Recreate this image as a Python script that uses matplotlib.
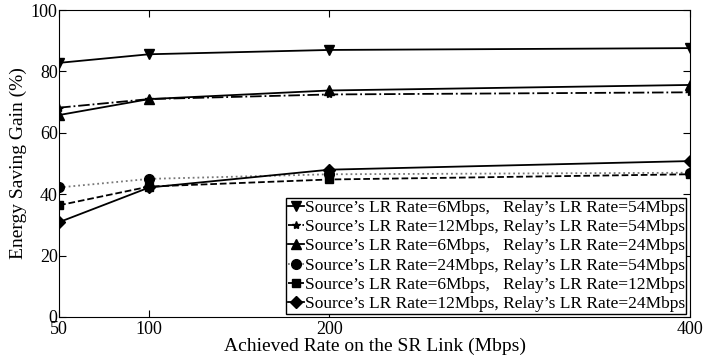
import matplotlib

matplotlib.use("Agg")
import matplotlib.pyplot as plt

plt.rcParams["font.family"] = ["Liberation Serif", "DejaVu Serif"]
plt.rcParams["mathtext.fontset"] = "stix"

# achieved SR link rate (Mbps)
rates = [50, 100, 200, 400]

# energy saving gain (%) per source/relay LR rate combination
gain_6_54 = [82.8, 85.6, 87.0, 87.6]
gain_12_54 = [68.2, 71.0, 72.5, 73.2]
gain_6_24 = [65.8, 71.0, 73.8, 75.6]
gain_24_54 = [42.2, 45.0, 46.5, 47.0]
gain_6_12 = [36.4, 42.5, 44.8, 46.5]
gain_12_24 = [30.9, 42.2, 48.0, 50.8]

labels = [
    "Source\u2019s LR Rate=6Mbps,   Relay\u2019s LR Rate=54Mbps",
    "Source\u2019s LR Rate=12Mbps, Relay\u2019s LR Rate=54Mbps",
    "Source\u2019s LR Rate=6Mbps,   Relay\u2019s LR Rate=24Mbps",
    "Source\u2019s LR Rate=24Mbps, Relay\u2019s LR Rate=54Mbps",
    "Source\u2019s LR Rate=6Mbps,   Relay\u2019s LR Rate=12Mbps",
    "Source\u2019s LR Rate=12Mbps, Relay\u2019s LR Rate=24Mbps",
]
series = [gain_6_54, gain_12_54, gain_6_24, gain_24_54, gain_6_12, gain_12_24]
styles = [
    dict(ls="-", marker="v", color="black", ms=7),
    dict(ls="-.", marker="*", color="black", ms=6),
    dict(ls="-", marker="^", color="black", ms=7),
    dict(ls=":", marker="o", color="#777777", mfc="black", mec="black", ms=7),
    dict(ls="--", marker="s", color="black", ms=6),
    dict(ls="-", marker="D", color="black", ms=6),
]

fig = plt.figure(figsize=(7.04, 3.59), dpi=100)
ax = fig.add_axes([0.084, 0.117, 0.896, 0.855])

for vals, lab, st in zip(series, labels, styles):
    ax.plot(rates, vals, lw=1.3, label=lab, **st)

ax.set_xlim(50, 400)
ax.set_ylim(0, 100)
ax.set_xticks(rates)
ax.set_yticks([0, 20, 40, 60, 80, 100])
ax.tick_params(direction="in", top=True, right=True, labelsize=13, length=5, pad=1)
ax.tick_params(axis="x", pad=3)
ax.set_xlabel("Achieved Rate on the SR Link (Mbps)", fontsize=14, labelpad=0)
ax.set_ylabel("Energy Saving Gain (%)", fontsize=14, labelpad=3)

leg = ax.legend(loc="lower right", fontsize=12.5, handlelength=0.9, handletextpad=0.05,
                borderpad=0.1, labelspacing=0.17, borderaxespad=0.2,
                fancybox=False, framealpha=1, edgecolor="black")
leg.get_frame().set_linewidth(1.0)

plt.savefig("out.png", dpi=100)
